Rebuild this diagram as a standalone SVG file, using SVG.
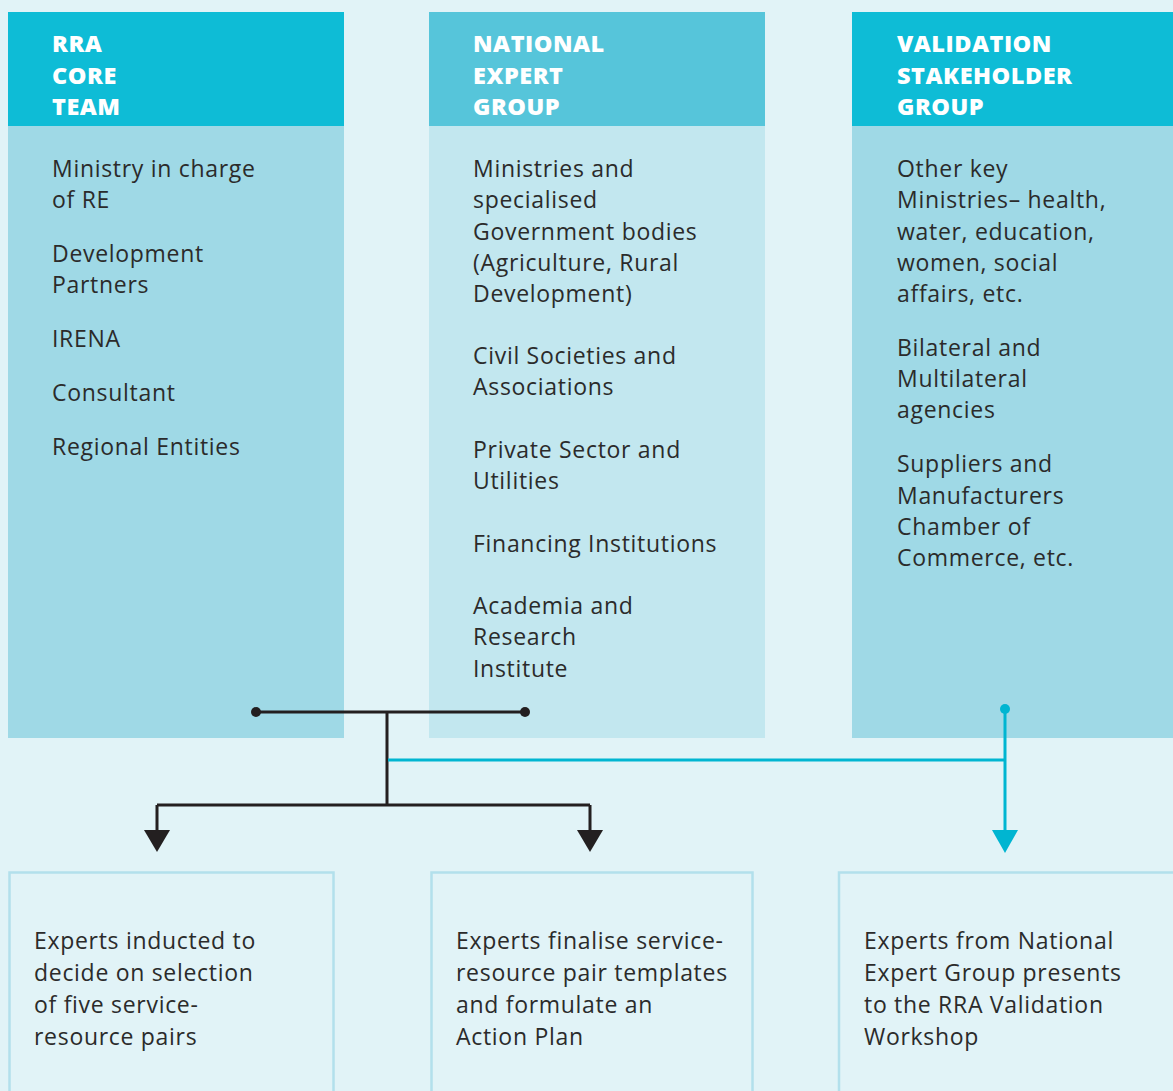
<svg xmlns="http://www.w3.org/2000/svg" width="1173" height="1091" viewBox="0 0 1173 1091">
<defs>
<style>
.hd{font-family:"Open Sans","Liberation Sans",sans-serif;font-weight:800;font-size:23.5px;fill:#ffffff;letter-spacing:0.5px}
.tx{font-family:"Open Sans","Liberation Sans",sans-serif;font-size:23px;fill:#2b2b2b;letter-spacing:0.7px}
.blk{stroke:#231f20;stroke-width:3;fill:none}
.cy{stroke:#00b5d1;stroke-width:3;fill:none}
.box{fill:#e1f3f7;stroke:#b2e0ec;stroke-width:2.5}
</style>
</defs>
<rect width="1173" height="1091" fill="#e1f3f7"/>
<g id="rra-core-team">
<rect x="8" y="126" width="336" height="612" fill="#9fd9e6"/>
<rect x="8" y="12" width="336" height="114" fill="#0ebcd6"/>
<text class="hd" x="52" y="52">RRA</text>
<text class="hd" x="52" y="84">CORE</text>
<text class="hd" x="52" y="115">TEAM</text>
<text class="tx" x="52" y="177">Ministry in charge</text>
<text class="tx" x="52" y="208">of RE</text>
<text class="tx" x="52" y="262">Development</text>
<text class="tx" x="52" y="293">Partners</text>
<text class="tx" x="52" y="347">IRENA</text>
<text class="tx" x="52" y="401">Consultant</text>
<text class="tx" x="52" y="455">Regional Entities</text>
</g>
<g id="national-expert-group">
<rect x="429" y="126" width="336" height="612" fill="#c2e7ef"/>
<rect x="429" y="12" width="336" height="114" fill="#56c5da"/>
<text class="hd" x="473" y="52">NATIONAL</text>
<text class="hd" x="473" y="84">EXPERT</text>
<text class="hd" x="473" y="115">GROUP</text>
<text class="tx" x="473" y="177">Ministries and</text>
<text class="tx" x="473" y="208">specialised</text>
<text class="tx" x="473" y="240">Government bodies</text>
<text class="tx" x="473" y="271">(Agriculture, Rural</text>
<text class="tx" x="473" y="302">Development)</text>
<text class="tx" x="473" y="364">Civil Societies and</text>
<text class="tx" x="473" y="395">Associations</text>
<text class="tx" x="473" y="458">Private Sector and</text>
<text class="tx" x="473" y="489">Utilities</text>
<text class="tx" x="473" y="552">Financing Institutions</text>
<text class="tx" x="473" y="614">Academia and</text>
<text class="tx" x="473" y="645">Research</text>
<text class="tx" x="473" y="677">Institute</text>
</g>
<g id="validation-stakeholder-group">
<rect x="852" y="126" width="321" height="612" fill="#9fd9e6"/>
<rect x="852" y="12" width="321" height="114" fill="#0ebcd6"/>
<text class="hd" x="897" y="52">VALIDATION</text>
<text class="hd" x="897" y="84">STAKEHOLDER</text>
<text class="hd" x="897" y="115">GROUP</text>
<text class="tx" x="897" y="177">Other key</text>
<text class="tx" x="897" y="208">Ministries– health,</text>
<text class="tx" x="897" y="240">water, education,</text>
<text class="tx" x="897" y="271">women, social</text>
<text class="tx" x="897" y="302">affairs, etc.</text>
<text class="tx" x="897" y="356">Bilateral and</text>
<text class="tx" x="897" y="387">Multilateral</text>
<text class="tx" x="897" y="418">agencies</text>
<text class="tx" x="897" y="472">Suppliers and</text>
<text class="tx" x="897" y="504">Manufacturers</text>
<text class="tx" x="897" y="535">Chamber of</text>
<text class="tx" x="897" y="566">Commerce, etc.</text>
</g>
<g id="step-1">
<rect class="box" x="9.5" y="872.5" width="324" height="230"/>
<text class="tx" x="34" y="949">Experts inducted to</text>
<text class="tx" x="34" y="981">decide on selection</text>
<text class="tx" x="34" y="1013">of five service-</text>
<text class="tx" x="34" y="1045">resource pairs</text>
</g>
<g id="step-2">
<rect class="box" x="431.5" y="872.5" width="321" height="230"/>
<text class="tx" x="456" y="949">Experts finalise service-</text>
<text class="tx" x="456" y="981">resource pair templates</text>
<text class="tx" x="456" y="1013">and formulate an</text>
<text class="tx" x="456" y="1045">Action Plan</text>
</g>
<g id="step-3">
<rect class="box" x="839" y="872.5" width="340" height="230"/>
<text class="tx" x="864" y="949">Experts from National</text>
<text class="tx" x="864" y="981">Expert Group presents</text>
<text class="tx" x="864" y="1013">to the RRA Validation</text>
<text class="tx" x="864" y="1045">Workshop</text>
</g>
<g id="connectors">
<path class="blk" d="M256 712 H525 M387 712 V805 M157 805 H590 M157 805 V834 M590 805 V834"/>
<circle cx="256" cy="712" r="5" fill="#231f20"/>
<circle cx="525" cy="712" r="5" fill="#231f20"/>
<polygon points="144,830 170,830 157,852" fill="#231f20"/>
<polygon points="577,830 603,830 590,852" fill="#231f20"/>
<path class="cy" d="M388 760 H1005 M1005 709 V834"/>
<circle cx="1005" cy="709" r="5" fill="#00b5d1"/>
<polygon points="992,830 1018,830 1005,853" fill="#00b5d1"/>
</g>
</svg>
